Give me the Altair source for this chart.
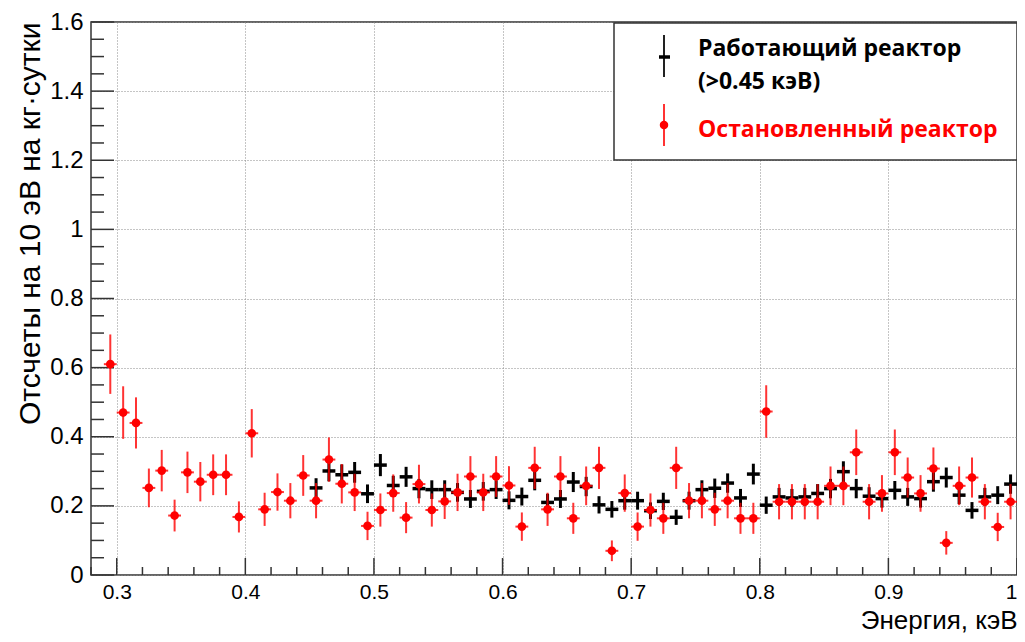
import altair as alt
import pandas as pd

# ---------------- data ----------------
red_energy = [0.295, 0.305, 0.315, 0.325, 0.335, 0.345, 0.355, 0.365, 0.375, 0.385,
              0.395, 0.405, 0.415, 0.425, 0.435, 0.445, 0.455, 0.465, 0.475, 0.485,
              0.495, 0.505, 0.515, 0.525, 0.535, 0.545, 0.555, 0.565, 0.575, 0.585,
              0.595, 0.605, 0.615, 0.625, 0.635, 0.645, 0.655, 0.665, 0.675, 0.685,
              0.695, 0.705, 0.715, 0.725, 0.735, 0.745, 0.755, 0.765, 0.775, 0.785,
              0.795, 0.805, 0.815, 0.825, 0.835, 0.845, 0.855, 0.865, 0.875, 0.885,
              0.895, 0.905, 0.915, 0.925, 0.935, 0.945, 0.955, 0.965, 0.975, 0.985,
              0.995]
red_counts = [0.610, 0.470, 0.440, 0.252, 0.302, 0.172, 0.297, 0.270, 0.290, 0.290,
              0.168, 0.410, 0.190, 0.240, 0.215, 0.288, 0.215, 0.334, 0.264, 0.239,
              0.142, 0.188, 0.237, 0.166, 0.263, 0.188, 0.213, 0.239, 0.285, 0.239,
              0.285, 0.259, 0.140, 0.310, 0.190, 0.285, 0.164, 0.258, 0.310, 0.070,
              0.237, 0.140, 0.188, 0.164, 0.310, 0.215, 0.215, 0.190, 0.215, 0.164,
              0.164, 0.473, 0.212, 0.212, 0.212, 0.212, 0.258, 0.258, 0.355, 0.212,
              0.236, 0.355, 0.282, 0.236, 0.308, 0.093, 0.258, 0.282, 0.212, 0.139,
              0.212]
red_errors = [0.086, 0.076, 0.074, 0.056, 0.060, 0.046, 0.060, 0.057, 0.059, 0.059,
              0.045, 0.070, 0.048, 0.054, 0.051, 0.059, 0.051, 0.064, 0.057, 0.054,
              0.041, 0.048, 0.054, 0.045, 0.056, 0.048, 0.051, 0.054, 0.059, 0.054,
              0.059, 0.056, 0.041, 0.061, 0.048, 0.059, 0.045, 0.056, 0.061, 0.030,
              0.054, 0.041, 0.048, 0.045, 0.061, 0.051, 0.051, 0.048, 0.051, 0.045,
              0.045, 0.076, 0.051, 0.051, 0.051, 0.051, 0.056, 0.056, 0.066, 0.051,
              0.053, 0.066, 0.058, 0.053, 0.061, 0.034, 0.056, 0.058, 0.051, 0.041,
              0.051]

black_energy = [0.455, 0.465, 0.475, 0.485, 0.495, 0.505, 0.515, 0.525, 0.535, 0.545,
                0.555, 0.565, 0.575, 0.585, 0.595, 0.605, 0.615, 0.625, 0.635, 0.645,
                0.655, 0.665, 0.675, 0.685, 0.695, 0.705, 0.715, 0.725, 0.735, 0.745,
                0.755, 0.765, 0.775, 0.785, 0.795, 0.805, 0.815, 0.825, 0.835, 0.845,
                0.855, 0.865, 0.875, 0.885, 0.895, 0.905, 0.915, 0.925, 0.935, 0.945,
                0.955, 0.965, 0.975, 0.985, 0.995]
black_counts = [0.252, 0.301, 0.290, 0.297, 0.235, 0.318, 0.259, 0.284, 0.250, 0.247,
                0.247, 0.239, 0.220, 0.242, 0.247, 0.216, 0.227, 0.274, 0.210, 0.220,
                0.269, 0.256, 0.203, 0.190, 0.215, 0.215, 0.186, 0.213, 0.167, 0.215,
                0.247, 0.251, 0.266, 0.223, 0.292, 0.202, 0.226, 0.223, 0.226, 0.236,
                0.250, 0.299, 0.250, 0.228, 0.221, 0.245, 0.226, 0.221, 0.270, 0.282,
                0.231, 0.187, 0.226, 0.231, 0.263]
black_errors = [0.028, 0.030, 0.030, 0.030, 0.027, 0.032, 0.028, 0.029, 0.028, 0.027,
                0.027, 0.027, 0.026, 0.027, 0.027, 0.026, 0.026, 0.029, 0.025, 0.026,
                0.029, 0.028, 0.025, 0.024, 0.026, 0.026, 0.024, 0.025, 0.022, 0.026,
                0.027, 0.028, 0.028, 0.026, 0.030, 0.025, 0.026, 0.026, 0.026, 0.027,
                0.028, 0.030, 0.028, 0.026, 0.026, 0.027, 0.026, 0.026, 0.029, 0.029,
                0.026, 0.024, 0.026, 0.026, 0.028]

bin_half_width = 0.005

x_major = [0.3, 0.4, 0.5, 0.6, 0.7, 0.8, 0.9, 1.0]
x_minor = [0.28, 0.32, 0.34, 0.36, 0.38, 0.42, 0.44, 0.46, 0.48, 0.52, 0.54, 0.56, 0.58,
           0.62, 0.64, 0.66, 0.68, 0.72, 0.74, 0.76, 0.78, 0.82, 0.84, 0.86, 0.88,
           0.92, 0.94, 0.96, 0.98]
y_major = [0.0, 0.2, 0.4, 0.6, 0.8, 1.0, 1.2, 1.4, 1.6]
y_minor = [0.05, 0.1, 0.15, 0.25, 0.3, 0.35, 0.45, 0.5, 0.55, 0.65, 0.7, 0.75,
           0.85, 0.9, 0.95, 1.05, 1.1, 1.15, 1.25, 1.3, 1.35, 1.45, 1.5, 1.55]

legend_black_1 = "Работающий реактор"
legend_black_2 = "(>0.45 кэВ)"
legend_red = "Остановленный реактор"
x_title = "Энергия, кэВ"
y_title = "Отсчеты на 10 эВ на кг·сутки"

# ---------------- tables ----------------
red = pd.DataFrame({"e": red_energy, "v": red_counts, "err": red_errors})
red["lo"] = red["e"] - bin_half_width
red["hi"] = red["e"] + bin_half_width
red["vlo"] = red["v"] - red["err"]
red["vhi"] = red["v"] + red["err"]

blk = pd.DataFrame({"e": black_energy, "v": black_counts, "err": black_errors})
blk["lo"] = blk["e"] - bin_half_width
blk["hi"] = blk["e"] + bin_half_width
blk["vlo"] = blk["v"] - blk["err"]
blk["vhi"] = blk["v"] + blk["err"]

W, H = 926, 553
xs = alt.Scale(domain=[0.28, 1.0], nice=False, zero=False)
ys = alt.Scale(domain=[0.0, 1.6], nice=False, zero=False)

x_axis = alt.Axis(
    values=x_major, format="~g", title=x_title, grid=True, ticks=False, tickSize=0,
    domain=False, labelFlush=True, labelFont="Liberation Sans", labelFontSize=21,
    labelColor="#000", labelPadding=6, gridColor="#8a8a8a", gridDash=[1, 2], gridWidth=1,
    titleFont="Liberation Sans", titleFontSize=26, titleFontWeight="normal", titleColor="#000",
    titleX=W, titleY=53, titleAlign="right", titleBaseline="alphabetic", titleAnchor="end",
)
y_axis = alt.Axis(
    values=y_major, format="~g", title=y_title, grid=True, ticks=False, tickSize=0,
    domain=False, labelFlush=False, labelFont="Liberation Sans", labelFontSize=24,
    labelColor="#000", labelPadding=8, gridColor="#8a8a8a", gridDash=[1, 2], gridWidth=1,
    titleFont="Liberation Sans", titleFontSize=30, titleFontWeight="normal", titleColor="#000",
    titleAngle=270, titleX=-61, titleY=0, titleAlign="right", titleBaseline="middle",
    titleAnchor="end",
)

one = pd.DataFrame({"k": [0]})

# grid + axes carrier, and inside ticks
ytick_major = alt.Chart(pd.DataFrame({"t": y_major})).mark_rule(color="#333", strokeWidth=1.5).encode(
    y=alt.Y("t:Q", scale=ys, axis=y_axis), x=alt.value(0), x2=alt.value(23))
ytick_minor = alt.Chart(pd.DataFrame({"t": y_minor})).mark_rule(color="#333", strokeWidth=1.5).encode(
    y=alt.Y("t:Q", scale=ys, axis=y_axis), x=alt.value(0), x2=alt.value(13))
xtick_major = alt.Chart(pd.DataFrame({"t": x_major})).mark_rule(color="#333", strokeWidth=1.5).encode(
    x=alt.X("t:Q", scale=xs, axis=x_axis), y=alt.value(H), y2=alt.value(H - 17))
xtick_minor = alt.Chart(pd.DataFrame({"t": x_minor})).mark_rule(color="#333", strokeWidth=1.5).encode(
    x=alt.X("t:Q", scale=xs, axis=x_axis), y=alt.value(H), y2=alt.value(H - 8))

# black series (operating reactor)
blk_h = alt.Chart(blk).mark_rule(color="#000", strokeWidth=3.5).encode(
    x=alt.X("lo:Q", scale=xs, axis=x_axis), x2="hi:Q", y=alt.Y("v:Q", scale=ys, axis=y_axis))
blk_v = alt.Chart(blk).mark_rule(color="#000", strokeWidth=3).encode(
    x=alt.X("e:Q", scale=xs, axis=x_axis), y=alt.Y("vlo:Q", scale=ys, axis=y_axis), y2="vhi:Q")

# red series (stopped reactor)
red_h = alt.Chart(red).mark_rule(color="#ff0000", strokeWidth=2, opacity=0.8).encode(
    x=alt.X("lo:Q", scale=xs, axis=x_axis), x2="hi:Q", y=alt.Y("v:Q", scale=ys, axis=y_axis))
red_v = alt.Chart(red).mark_rule(color="#ff0000", strokeWidth=2, opacity=0.8).encode(
    x=alt.X("e:Q", scale=xs, axis=x_axis), y=alt.Y("vlo:Q", scale=ys, axis=y_axis), y2="vhi:Q")
red_p = alt.Chart(red).mark_circle(color="#ff0000", size=75, opacity=1).encode(
    x=alt.X("e:Q", scale=xs, axis=x_axis), y=alt.Y("v:Q", scale=ys, axis=y_axis))

# legend
leg_box = alt.Chart(one).mark_rect(fill="white", stroke="#333", strokeWidth=1.5).encode(
    x=alt.value(523), x2=alt.value(W), y=alt.value(1), y2=alt.value(138))
leg_bv = alt.Chart(one).mark_rule(color="#222", strokeWidth=2).encode(
    x=alt.value(573), y=alt.value(13), y2=alt.value(55))
leg_bh = alt.Chart(one).mark_rule(color="#000", strokeWidth=3.5).encode(
    x=alt.value(568), x2=alt.value(579), y=alt.value(35))
leg_rv = alt.Chart(one).mark_rule(color="#ff0000", strokeWidth=2, opacity=0.8).encode(
    x=alt.value(573), y=alt.value(82), y2=alt.value(124))
leg_rp = alt.Chart(one).mark_circle(color="#ff0000", size=72, opacity=1).encode(
    x=alt.value(573), y=alt.value(103))

txt_kw = dict(font="Open Sans", fontWeight="bold", fontSize=23, align="left", baseline="alphabetic")
leg_t1 = alt.Chart(one).mark_text(color="#000", **txt_kw).encode(
    x=alt.value(607), y=alt.value(34), text=alt.value(legend_black_1))
leg_t2 = alt.Chart(one).mark_text(color="#000", **txt_kw).encode(
    x=alt.value(607), y=alt.value(67), text=alt.value(legend_black_2))
leg_t3 = alt.Chart(one).mark_text(color="#ff0000", **txt_kw).encode(
    x=alt.value(607), y=alt.value(115), text=alt.value(legend_red))

chart = alt.layer(
    ytick_major, ytick_minor, xtick_major, xtick_minor,
    blk_h, blk_v, red_h, red_v, red_p,
    leg_box, leg_bv, leg_bh, leg_rv, leg_rp, leg_t1, leg_t2, leg_t3,
).properties(
    width=W, height=H,
    padding={"left": 83, "top": 14, "right": 0, "bottom": 59},
    autosize=alt.AutoSizeParams(type="none"),
    background="white",
).configure_view(stroke="#333", strokeWidth=1.5, fill="white")

chart.save("out.html", embed_options={"renderer": "svg", "actions": False})
